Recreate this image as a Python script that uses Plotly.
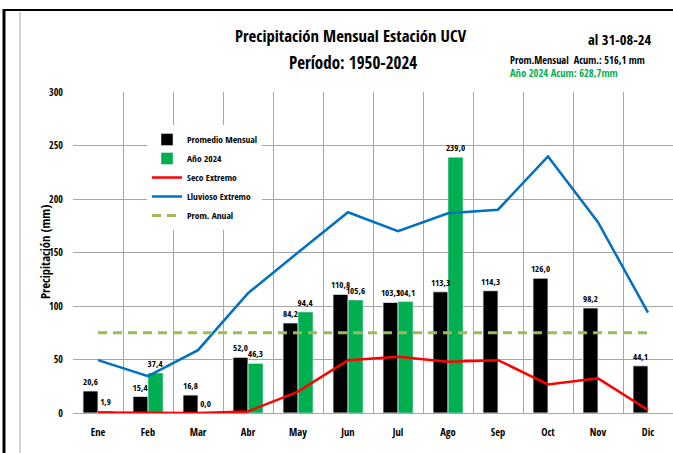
import plotly.graph_objects as go

meses = ["Ene", "Feb", "Mar", "Abr", "May", "Jun", "Jul", "Ago", "Sep", "Oct", "Nov", "Dic"]
promedio = [20.6, 15.4, 16.8, 52.0, 84.2, 110.8, 103.3, 113.3, 114.3, 126.0, 98.2, 44.1]
anio_2024 = [1.9, 37.4, 0.0, 46.3, 94.4, 105.6, 104.1, 239.0, None, None, None, None]
seco_extremo = [0.5, 0.0, 0.0, 1.5, 20.0, 49.4, 52.5, 47.8, 49.4, 26.7, 32.4, 2.8]
lluvioso_extremo = [49.4, 34.5, 58.7, 112.0, 150.0, 187.6, 170.0, 186.7, 190.0, 239.8, 178.3, 93.8]
prom_anual = [74.9, 74.9, 74.9, 74.9, 74.9, 74.9, 74.9, 74.9, 74.9, 74.9, 74.9, 74.9]
y_ticks = [0, 50, 100, 150, 200, 250, 300]

FONT = "Open Sans Condensed, Roboto Condensed, DejaVu Sans Condensed, sans-serif"


def fmt(v):
    return None if v is None else f"{v:.1f}".replace(".", ",")


W, H = 673, 453
L, R, T, B = 73, 0, 92, 40
PW, PH = W - L - R, H - T - B


def px(x):
    return (x - L) / PW


def py(y):
    return (H - B - y) / PH


LBL = dict(family=FONT, size=9.0, color="#000000", weight="bold")
BW = 0.3  # bar width in category units

fig = go.Figure()
fig.add_trace(go.Bar(
    x=meses, y=promedio, name="Promedio Mensual", marker_color="#000000",
    width=BW, offset=-BW,
))
fig.add_trace(go.Bar(
    x=meses, y=anio_2024, name="Año 2024", marker_color="#00B050",
    width=BW, offset=0,
    text=[fmt(v) for v in anio_2024], textposition="outside", constraintext="none",
    textfont=LBL, cliponaxis=False,
))
# labels of the monthly average drawn above the 2024 bars
fig.add_trace(go.Bar(
    x=meses, y=promedio, name="Promedio Mensual", showlegend=False, hoverinfo="skip",
    marker_color="rgba(0,0,0,0)", width=BW, offset=-BW,
    text=[fmt(v) for v in promedio], textposition="outside", constraintext="none",
    textfont=LBL, cliponaxis=False,
))
fig.add_trace(go.Scatter(
    x=meses, y=seco_extremo, name="Seco Extremo", mode="lines",
    line=dict(color="#FF0000", width=2.5),
))
fig.add_trace(go.Scatter(
    x=meses, y=lluvioso_extremo, name="Lluvioso Extremo", mode="lines",
    line=dict(color="#0070C0", width=2.5),
))
fig.add_trace(go.Scatter(
    x=meses, y=prom_anual, name="Prom. Anual", mode="lines",
    line=dict(color="#9BBB59", width=3, dash="9px,6px"),
))

fig.update_layout(
    width=W, height=H,
    margin=dict(l=L, r=R, t=T, b=B),
    paper_bgcolor="white", plot_bgcolor="white",
    font=dict(family=FONT, color="#000000"),
    barmode="overlay",
    showlegend=True,
    legend=dict(
        x=px(147), y=py(125), xanchor="left", yanchor="top",
        bgcolor="white", font=dict(family=FONT, size=9.5, color="#000000", weight="bold"),
        traceorder="normal",
    ),
    xaxis=dict(
        type="category", tickson="boundaries", showgrid=True,
        gridcolor="#A6A6A6", gridwidth=1,
        showline=True, linecolor="#A6A6A6", linewidth=1,
        ticks="", ticklabelstandoff=9,
        tickfont=dict(family=FONT, size=10.5, color="#000000", weight="bold"),
        range=[-0.5, 11.5], zeroline=False,
    ),
    yaxis=dict(
        range=[0, 300], tickvals=y_ticks, showgrid=True,
        gridcolor="#A6A6A6", gridwidth=1, zeroline=False,
        ticks="outside", ticklen=7, tickcolor="rgba(0,0,0,0)",
        tickfont=dict(family=FONT, size=10, color="#000000"),
    ),
    annotations=[
        dict(text="<b>Precipitación (mm)</b>", x=px(45), y=py(252), textangle=-90,
             xref="paper", yref="paper", showarrow=False, xanchor="center", yanchor="middle",
             font=dict(family=FONT, size=12.6, color="#000000")),
        dict(text="<b>Precipitación Mensual Estación UCV</b>", x=px(351), y=py(36),
             xref="paper", yref="paper", showarrow=False, xanchor="center", yanchor="middle",
             font=dict(family=FONT, size=16.7, color="#000000")),
        dict(text="<b>Período: 1950-2024</b>", x=px(353), y=py(62),
             xref="paper", yref="paper", showarrow=False, xanchor="center", yanchor="middle",
             font=dict(family=FONT, size=17, color="#000000")),
        dict(text="<b>al 31-08-24</b>", x=px(654), y=py(40),
             xref="paper", yref="paper", showarrow=False, xanchor="right", yanchor="middle",
             font=dict(family=FONT, size=14.5, color="#000000")),
        dict(text="<b>Prom.Mensual  Acum.: 516,1 mm</b>", x=px(508), y=py(60),
             xref="paper", yref="paper", showarrow=False, xanchor="left", yanchor="middle",
             font=dict(family=FONT, size=10.3, color="#000000")),
        dict(text="<b>Año 2024 Acum: 628,7mm</b>", x=px(508), y=py(73),
             xref="paper", yref="paper", showarrow=False, xanchor="left", yanchor="middle",
             font=dict(family=FONT, size=10.5, color="#00B050")),
    ],
    shapes=[
        dict(type="line", xref="paper", yref="paper", x0=px(3), x1=px(673), y0=py(10), y1=py(10),
             line=dict(color="#000000", width=2)),
        dict(type="line", xref="paper", yref="paper", x0=px(4), x1=px(4), y0=py(9), y1=py(453),
             line=dict(color="#000000", width=3)),
        dict(type="line", xref="paper", yref="paper", x0=px(20), x1=px(20), y0=py(12), y1=py(453),
             line=dict(color="#A6A6A6", width=1)),
    ],
)

fig.write_html("out.html", config={"displayModeBar": False},
               post_script="document.body.style.margin='0';")
